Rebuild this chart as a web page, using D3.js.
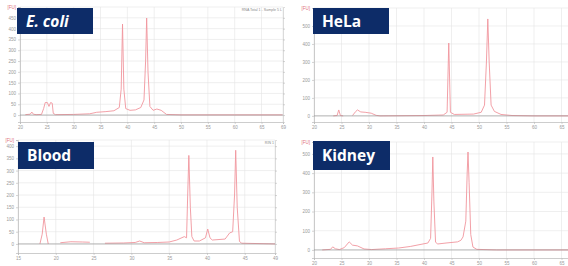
<!DOCTYPE html>
<html>
<head>
<meta charset="utf-8">
<script src="https://cdn.jsdelivr.net/npm/d3@7"></script>
<style>
  body { margin: 0; background: #fff; }
  svg { display: block; }
  .tick text { font-family: "Liberation Sans", sans-serif; fill: #9a9a9a; }
</style>
</head>
<body>
<div id="chart"></div>
<script>
// Electropherogram traces, [time (s), fluorescence (FU)]; null = gap in trace
const ecoliTrace = [
  [21.0, 2], [21.9, 4], [22.2, 14], [22.5, 4], [23.0, 2], [24.0, 3], [24.4, 30],
  [24.7, 58], [25.1, 58], [25.4, 40], [25.7, 58], [26.0, 55], [26.2, 8], [26.6, 2],
  [30.0, 3], [33.0, 6], [34.3, 13], [36.0, 16], [37.5, 20], [38.5, 35], [38.85, 120],
  [39.1, 421], [39.35, 120], [39.7, 30], [40.5, 22], [41.5, 24], [42.5, 35],
  [43.1, 70], [43.4, 250], [43.6, 449], [43.85, 200], [44.2, 40], [44.8, 22],
  [45.5, 28], [46.3, 22], [47.3, 3], [50.0, 1], [60.0, 1], [68.9, 1]
];
const helaTrace = [
  [23.5, 0], [24.2, 2], [24.5, 33], [24.8, 2], [25.3, 0], [25.8, null],
  [27.0, 2], [27.6, 25], [27.9, 33], [28.5, 22], [29.3, 20], [30.4, 15], [31.3, 3],
  [32.0, 0], [40.0, 2], [43.5, 5], [44.2, 20], [44.5, 405], [44.8, 20], [45.5, 8],
  [49.0, 10], [50.4, 20], [51.0, 60], [51.35, 300], [51.6, 539], [51.85, 300],
  [52.2, 60], [52.8, 25], [54.0, 8], [56.0, 2], [60.0, 0], [70.0, 0]
];
const bloodTrace = [
  [17.9, 0], [18.2, 40], [18.45, 110], [18.75, 40], [19.0, 0], [19.5, null],
  [20.6, 5], [22.0, 9], [23.5, 8], [24.5, 7], [25.5, null],
  [26.5, 3], [29.0, 4], [30.5, 6], [31.1, 12], [31.7, 5], [33.5, 6], [35.0, 8],
  [36.0, 16], [37.0, 30], [37.3, 25], [37.45, 200], [37.6, 362], [37.8, 150],
  [38.0, 30], [38.3, 12], [39.0, 12], [39.8, 25], [40.1, 61], [40.4, 25], [40.7, 16],
  [42.4, 20], [43.0, 45], [43.4, 50], [43.65, 200], [43.8, 383], [44.0, 150],
  [44.3, 10], [44.6, 3], [49.0, 0]
];
const kidneyTrace = [
  [21.5, 0], [23.0, 3], [23.4, 16], [23.9, 6], [24.6, 2], [25.5, 12], [26.4, 42],
  [27.0, 25], [27.9, 21], [29.1, 5], [30.5, 2], [33.0, 6], [35.4, 10], [37.5, 18],
  [38.9, 26], [40.7, 36], [41.2, 60], [41.45, 300], [41.6, 484], [41.8, 250],
  [42.1, 40], [42.5, 31], [44.0, 36], [46.1, 42], [46.7, 50], [47.1, 68],
  [47.6, 150], [47.85, 400], [48.0, 510], [48.2, 350], [48.5, 80], [48.9, 15],
  [49.6, 3], [53.2, 0], [70.0, 0]
];

// Tick values
const ecoliXTicks = [20, 25, 30, 35, 40, 45, 50, 55, 60, 65, 69];
const ecoliYTicks = [0, 50, 100, 150, 200, 250, 300, 350, 400, 450];
const helaXTicks = [20, 25, 30, 35, 40, 45, 50, 55, 60, 65, 70];
const helaYTicks = [0, 100, 200, 300, 400, 500];
const bloodXTicks = [15, 20, 25, 30, 35, 40, 45, 49];
const bloodYTicks = [0, 50, 100, 150, 200, 250, 300, 350, 400];
const kidneyXTicks = [20, 25, 30, 35, 40, 45, 50, 55, 60, 65, 70];
const kidneyYTicks = [0, 100, 200, 300, 400, 500];

const sampleNames = ["E. coli", "HeLa", "Blood", "Kidney"];

const W = 568, H = 266;
const svg = d3.select("#chart").append("svg").attr("width", W).attr("height", H);

// panel layout (pixels) + domains
const panels = [
  { name: sampleNames[0], italic: true, trace: ecoliTrace, xTicks: ecoliXTicks, yTicks: ecoliYTicks,
    xDom: [20, 69], yDom: [-32, 500], left: 20, right: 283, top: 7, bottom: 122,
    box: [17, 8, 76, 26], rightAxis: true, note: "RNA Total 1 - Sample 5 L" },
  { name: sampleNames[1], trace: helaTrace, xTicks: helaXTicks, yTicks: helaYTicks,
    xDom: [20, 70], yDom: [-34, 600], left: 314, right: 589, top: 8, bottom: 122,
    box: [313, 8, 76, 26] },
  { name: sampleNames[2], trace: bloodTrace, xTicks: bloodXTicks, yTicks: bloodYTicks,
    xDom: [15, 49], yDom: [-37, 425], left: 18, right: 275, top: 140, bottom: 253,
    box: [18, 142, 76, 27], rightAxis: true, note: "RIN 1" },
  { name: sampleNames[3], trace: kidneyTrace, xTicks: kidneyXTicks, yTicks: kidneyYTicks,
    xDom: [20, 70], yDom: [-42, 562], left: 314, right: 589, top: 142, bottom: 258,
    box: [313, 141, 77, 29] }
];

panels.forEach(p => {
  const x = d3.scaleLinear().domain(p.xDom).range([p.left, p.right]);
  const y = d3.scaleLinear().domain(p.yDom).range([p.bottom, p.top]);
  const g = svg.append("g");

  // grid
  g.selectAll(".vgrid").data(p.xTicks).enter().append("line")
    .attr("x1", d => x(d)).attr("x2", d => x(d))
    .attr("y1", p.top).attr("y2", p.bottom)
    .attr("stroke", "#e4e4e4").attr("stroke-width", 0.6);
  g.selectAll(".hgrid").data(p.yTicks.concat([p.yDom[1]])).enter().append("line")
    .attr("x1", p.left).attr("x2", p.right)
    .attr("y1", d => y(d)).attr("y2", d => y(d))
    .attr("stroke", "#e4e4e4").attr("stroke-width", 0.6);

  // axes
  const xAxis = d3.axisBottom(x).tickValues(p.xTicks).tickSize(2).tickPadding(2);
  const gx = g.append("g").attr("transform", `translate(0,${p.bottom})`).call(xAxis);
  const yAxis = d3.axisLeft(y).tickValues(p.yTicks.concat([p.yDom[1]])).tickSize(2).tickPadding(2)
    .tickFormat(d => d === p.yDom[1] ? "[FU]" : d);
  const gy = g.append("g").attr("transform", `translate(${p.left},0)`).call(yAxis);
  [gx, gy].forEach(a => {
    a.select(".domain").attr("stroke", "#b8b8b8").attr("stroke-width", 0.7);
    a.selectAll(".tick line").attr("stroke", "#b8b8b8").attr("stroke-width", 0.6);
    a.selectAll(".tick text").attr("font-size", 4.5);
  });
  gy.selectAll(".tick text").filter(d => d === p.yDom[1]).style("fill", "#e0707a");
  // labels past the window edge are not drawn
  gx.selectAll(".tick text").filter(d => x(d) > W - 4).remove();

  if (p.rightAxis) {
    const gr = g.append("g").attr("transform", `translate(${p.right},0)`)
      .call(d3.axisRight(y).tickValues(p.yTicks).tickSize(2).tickFormat(""));
    gr.select(".domain").attr("stroke", "#c8c8c8").attr("stroke-width", 0.6);
    gr.selectAll(".tick line").attr("stroke", "#b8b8b8").attr("stroke-width", 0.6);
  }

  // trace
  const line = d3.line()
    .defined(d => d[1] !== null)
    .x(d => x(d[0])).y(d => y(d[1]));
  g.append("path").datum(p.trace)
    .attr("d", line)
    .attr("fill", "none")
    .attr("stroke", "#f0959d")
    .attr("stroke-width", 0.9)
    .attr("stroke-linejoin", "round");

  // zero baseline
  g.append("line")
    .attr("x1", p.left).attr("x2", p.right)
    .attr("y1", y(0)).attr("y2", y(0))
    .attr("stroke", "#8e8e8e").attr("stroke-width", 0.8).attr("opacity", 0.75);

  if (p.note) {
    g.append("text").attr("x", p.right - 1).attr("y", p.top + 4)
      .attr("text-anchor", "end")
      .attr("font-family", "Liberation Sans, sans-serif")
      .attr("font-size", 3.6).attr("fill", "#888")
      .text(p.note);
  }

  // title box
  const [bx, by, bw, bh] = p.box;
  g.append("rect").attr("x", bx).attr("y", by).attr("width", bw).attr("height", bh)
    .attr("fill", "#0d2c68");
  g.append("text").attr("x", bx + 9).attr("y", by + bh / 2 + 5.5)
    .attr("font-family", "Open Sans, sans-serif")
    .attr("font-weight", "bold")
    .attr("font-style", p.italic ? "italic" : "normal")
    .attr("font-size", 15.5)
    .attr("fill", "#fff")
    .text(p.name);
});
</script>
</body>
</html>
